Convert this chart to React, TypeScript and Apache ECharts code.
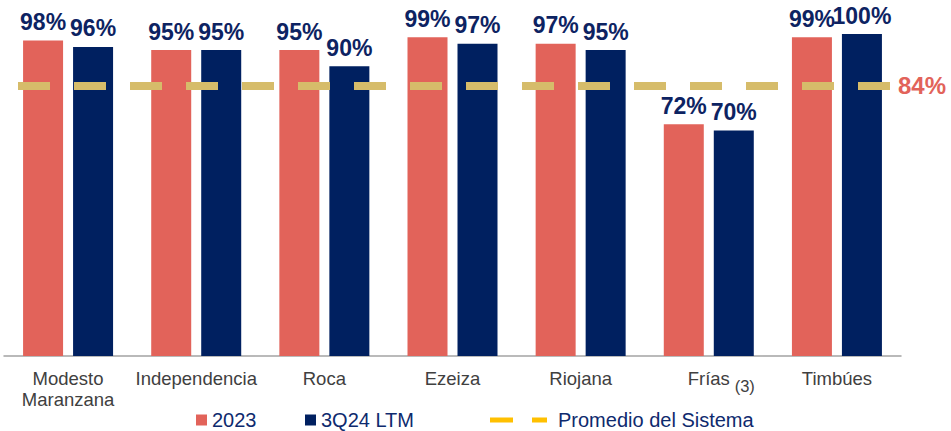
import React, { useEffect, useRef } from 'react';
import * as echarts from 'echarts';

const categories = ['Modesto\nMaranzana', 'Independencia', 'Roca', 'Ezeiza', 'Riojana', 'Frías', 'Timbúes'];
const footnotes: Record<string, string> = { 'Frías': '(3)' };
const values2023 = [98, 95, 95, 99, 97, 72, 99];
const values3Q24 = [96, 95, 90, 97, 95, 70, 100];
const systemAverage = 84;
const seriesNames = ['2023', '3Q24 LTM', 'Promedio del Sistema'];

const FONT = "'Liberation Sans', Arial, sans-serif";
const CORAL = '#E2635A';
const NAVY = '#002060';
const LABEL_NAVY = '#0D2362';

export default function App() {
  const ref = useRef<HTMLDivElement>(null);
  useEffect(() => {
    if (!ref.current) return;
    const chart = echarts.init(ref.current, undefined, { renderer: 'svg' });
    const barLabel = {
      show: true,
      position: 'top' as const,
      distance: 7,
      formatter: '{c}%',
      color: LABEL_NAVY,
      fontSize: 23,
      fontWeight: 'bold' as const,
      fontFamily: FONT,
    };
    const legendBase = {
      top: 410,
      padding: 0,
      selectedMode: false,
      textStyle: { fontSize: 20, color: '#0E2A6E', fontFamily: FONT },
    };
    chart.setOption({
      animation: false,
      textStyle: { fontFamily: FONT },
      grid: { left: 4, right: 50, top: 34, bottom: 75, containLabel: false },
      xAxis: {
        type: 'category',
        data: categories,
        axisLine: { show: true, lineStyle: { color: '#A3A3A3', width: 1.5 } },
        axisTick: { show: false },
        axisLabel: {
          margin: 12,
          fontSize: 18.5,
          lineHeight: 21,
          color: '#404040',
          fontFamily: FONT,
          interval: 0,
          formatter: (v: string) =>
            footnotes[v] ? `{pad|}{a|${v}}{b|${footnotes[v]}}` : v,
          rich: {
            pad: { width: 25 },
            a: { fontSize: 18.5, lineHeight: 21, color: '#404040' },
            b: { fontSize: 16.5, lineHeight: 21, width: 25, align: 'right', color: '#404040', padding: [14, 0, 0, 0] },
          },
        },
      },
      yAxis: {
        type: 'value',
        min: 0,
        max: 100,
        show: false,
        splitLine: { show: false },
      },
      legend: [
        { ...legendBase, data: [seriesNames[0]], left: 196, icon: 'rect', itemWidth: 11, itemHeight: 11 },
        { ...legendBase, data: [seriesNames[1]], left: 305, icon: 'rect', itemWidth: 11, itemHeight: 11 },
        {
          ...legendBase, data: [seriesNames[2]], left: 490, icon: 'path://M0,0H23V5H0ZM42,0H57V5H42Z',
          itemWidth: 57, itemHeight: 5,
          textStyle: { fontSize: 20, color: '#0E2A6E', fontFamily: FONT, padding: [0, 0, 0, 6] },
        },
      ],
      series: [
        {
          name: seriesNames[0], type: 'bar', data: values2023, barWidth: 40, barGap: '25%',
          itemStyle: { color: CORAL }, label: barLabel,
        },
        {
          name: seriesNames[1], type: 'bar', data: values3Q24, barWidth: 40,
          itemStyle: { color: NAVY }, label: barLabel,
        },
        {
          name: seriesNames[2], type: 'line', data: [], color: '#FFC000',
          itemStyle: { color: '#FFC000' },
          markLine: {
            silent: true,
            symbol: ['none', 'none'],
            data: [{ yAxis: systemAverage }],
            lineStyle: { color: '#D6BC6A', width: 8, type: [32, 24], dashOffset: 42 },
            label: {
              show: true, position: 'end', distance: -3, formatter: `${systemAverage}%`,
              color: CORAL, fontSize: 24, fontWeight: 'bold', fontFamily: FONT,
            },
          },
        },
      ],
    });
    return () => chart.dispose();
  }, []);
  return (
    <div
      ref={ref}
      style={{ position: 'fixed', left: 0, top: 0, width: 951, height: 431, background: '#fff' }}
    />
  );
}
